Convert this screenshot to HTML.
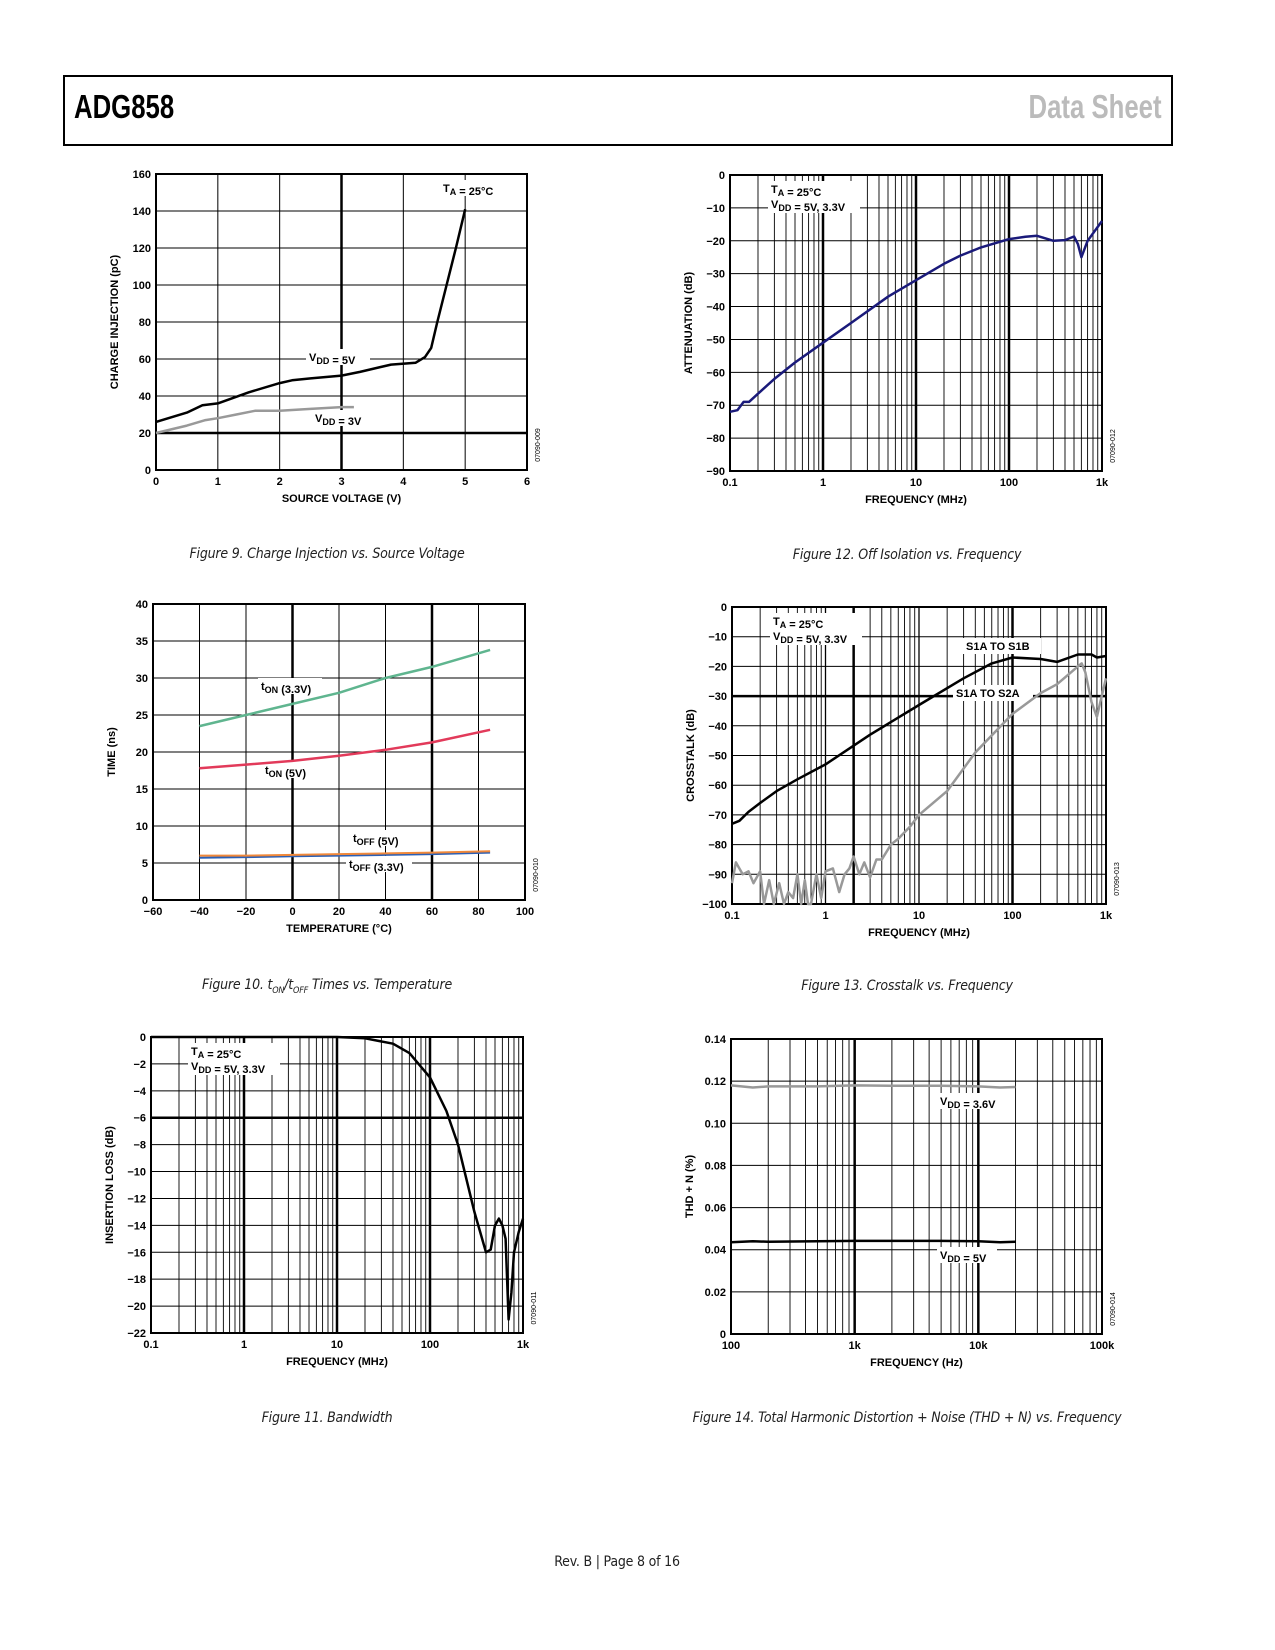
<!DOCTYPE html>
<html><head><meta charset="utf-8"><style>
body{margin:0;background:#fff;width:1275px;height:1650px;position:relative;overflow:hidden;font-family:"Liberation Sans",sans-serif}
.cap{position:absolute;font-style:italic;font-size:14px;color:#222;transform:translateX(-50%);white-space:nowrap;font-family:"DejaVu Sans Condensed","Liberation Sans",sans-serif;letter-spacing:-0.2px}
svg text{font-family:"Liberation Sans",sans-serif;font-weight:bold;font-size:11px}
</style></head><body>
<div style="position:absolute;left:63px;top:75px;width:1106px;height:67px;border:2px solid #000"></div>
<div style="position:absolute;left:74px;top:88px;font-size:33px;font-weight:bold;transform:scaleX(0.78);transform-origin:left;letter-spacing:0px">ADG858</div>
<div style="position:absolute;right:113px;top:88px;font-size:33px;font-weight:bold;color:#bbb;transform:scaleX(0.78);transform-origin:right">Data Sheet</div>
<div class="cap" style="left:327px;top:546px">Figure 9. Charge Injection vs. Source Voltage</div>
<div class="cap" style="left:907px;top:547px">Figure 12. Off Isolation vs. Frequency</div>
<div class="cap" style="left:327px;top:977px">Figure 10. t<sub style="font-size:9px">ON</sub>/t<sub style="font-size:9px">OFF</sub> Times vs. Temperature</div>
<div class="cap" style="left:907px;top:978px">Figure 13. Crosstalk vs. Frequency</div>
<div class="cap" style="left:327px;top:1410px">Figure 11. Bandwidth</div>
<div class="cap" style="left:907px;top:1410px">Figure 14. Total Harmonic Distortion + Noise (THD + N) vs. Frequency</div>
<div class="cap" style="left:617px;top:1554px;font-style:normal;font-size:14px">Rev. B | Page 8 of 16</div>
<svg id="s" width="1275" height="1650" style="position:absolute;left:0;top:0"></svg>
<script>
// Fig 9 data
const f9X5 = [0,0.5,0.75,1,1.5,2,2.2,2.5,3,3.3,3.8,4.2,4.35,4.45,4.55,4.7,4.85,5];
const f9Y5 = [26,31,35,36,42,47,48.5,49.5,51,53,57,58,61,66,80,100,120,141];
const f9X3 = [0,0.5,0.8,1,1.3,1.6,2,2.5,3,3.2];
const f9Y3 = [20,24,27,28,30,32,32,33,34,34];
// Fig 12 data
const f12F = [0.1,0.12,0.14,0.16,0.2,0.3,0.5,1,2,5,10,20,30,50,100,150,200,300,400,500,550,600,700,1000];
const f12Y = [-72,-71.5,-69,-69,-66.5,-62,-57,-51,-45,-37,-32,-27,-24.5,-22,-19.5,-18.8,-18.5,-20,-19.8,-18.7,-21,-25,-20,-14];
// Fig 10 data
const f10T = [-40,-20,0,20,40,60,85];
const f10On33 = [23.5,25,26.5,28,30,31.5,33.8];
const f10On5 = [17.8,18.3,18.8,19.5,20.3,21.3,23];
const f10Off5 = [6,6,6.1,6.2,6.3,6.4,6.6];
const f10Off33 = [5.7,5.8,5.9,6,6.1,6.2,6.4];
// Fig 13 data
const f13F1 = [0.1,0.12,0.15,0.2,0.3,0.5,1,3,10,30,60,100,200,300,500,700,800,1000];
const f13Y1 = [-73,-72,-69,-66,-62,-58,-53,-43,-33,-24,-19,-17,-17.5,-18.5,-16,-16,-17,-16.5];
const f13F2 = [0.1,0.11,0.13,0.15,0.17,0.2,0.22,0.25,0.28,0.32,0.36,0.4,0.45,0.5,0.55,0.6,0.65,0.7,0.8,0.9,1,1.2,1.4,1.6,1.8,2,2.3,2.6,3,3.5,4,5,6,8,10,20,40,100,200,300,500,550,600,700,800,900,1000];
const f13Y2 = [-93,-86,-90,-89,-93,-89,-100,-92,-100,-93,-100,-96,-98,-90,-100,-92,-100,-100,-90,-98,-89,-88,-96,-90,-88,-84,-90,-86,-91,-85,-85,-80,-78,-74,-70,-62,-49,-36,-29,-26,-20,-19,-22,-32,-37,-30,-24];
// Fig 11 data
const f11F = [0.1,10,20,40,60,100,150,200,300,400,450,500,550,600,650,700,750,800,900,1000];
const f11Y = [0,0,-0.1,-0.5,-1.2,-3,-5.5,-8,-13,-16,-15.8,-14,-13.5,-14,-15,-21,-19,-16,-14.5,-13.5];
// Fig 14 data
const f14F = [100,150,200,500,1000,2000,5000,10000,15000,20000];
const f14Y36 = [0.118,0.117,0.1175,0.1175,0.118,0.1178,0.1178,0.1175,0.117,0.1172];
const f14Y5 = [0.0435,0.044,0.0438,0.044,0.0442,0.0442,0.0442,0.044,0.0435,0.0438];

const S=document.getElementById('s');const NS='http://www.w3.org/2000/svg';
function mk(t,a,txt){const e=document.createElementNS(NS,t);for(const k in a)e.setAttribute(k,a[k]);if(txt!=null)e.textContent=txt;S.appendChild(e);return e;}
function chart(o){
  const lin=(v,a,b,p,q)=>p+(v-a)/(b-a)*(q-p);
  const sx=o.log?v=>lin(Math.log10(v),Math.log10(o.x0),Math.log10(o.x1),o.L,o.R):v=>lin(v,o.x0,o.x1,o.L,o.R);
  const sy=v=>lin(v,o.y0,o.y1,o.B,o.T);
  if(o.log){for(let d=Math.log10(o.x0);d<Math.log10(o.x1);d++){for(let m=1;m<10;m++){const v=Math.pow(10,d)*m;const x=sx(v);const g=mk('line',{x1:x,x2:x,y1:o.T,y2:o.B,stroke:'#000','stroke-width':(o.boldX||[]).some(b=>Math.abs(b-v)<1e-9)?2.5:(m==1?1.3:0.9)});}}}
  else{for(let v=o.x0;v<=o.x1+1e-9;v+=o.xs){const x=sx(v);const g=mk('line',{x1:x,x2:x,y1:o.T,y2:o.B,stroke:'#000','stroke-width':(o.boldX||[]).includes(v)?2.5:1});}}
  for(let i=0;i<o.yt.length;i++){const v=o.yt[i];const y=sy(v);const g=mk('line',{x1:o.L,x2:o.R,y1:y,y2:y,stroke:'#000','stroke-width':(o.boldY||[]).includes(v)?2.5:1});
    const t=mk('text',{x:o.L-5,y:y+4,'text-anchor':'end'},o.ytl[i]);}
  for(let i=0;i<o.xt.length;i++){const t=mk('text',{x:sx(o.xt[i]),y:o.B+15,'text-anchor':'middle'},o.xtl[i]);}
  const fr=mk('rect',{x:o.L,y:o.T,width:o.R-o.L,height:o.B-o.T,fill:'none',stroke:'#000','stroke-width':2});
  (o.labels||[]).forEach(l=>{const r=mk('rect',{x:l.x,y:l.y-12,width:l.w,height:l.h||16,fill:'#fff'});
    l.lines.forEach((ln,j)=>{const t=mk('text',{x:l.x+3,y:l.y+j*15});t.innerHTML=ln;});});
  o.series.forEach(s=>{const d=s.x.map((v,i)=>(i?'L':'M')+sx(v).toFixed(1)+','+sy(s.y[i]).toFixed(1)).join('');const p=mk('path',{d:d,fill:'none',stroke:s.c,'stroke-width':s.w||2.5,'stroke-linejoin':'round'});});
  const xt=mk('text',{x:(o.L+o.R)/2,y:o.B+32,'text-anchor':'middle'},o.xtitle);
  const yt=mk('text',{x:0,y:0,'text-anchor':'middle',transform:`translate(${o.L-38},${(o.T+o.B)/2}) rotate(-90)`},o.ytitle);
  const id=mk('text',{x:0,y:0,'text-anchor':'middle',transform:`translate(${o.R+13},${o.B-25}) rotate(-90)`,style:'font-size:7px;font-weight:normal'},o.id);
}
const sub=s=>`<tspan dy="3" font-size="9">${s}</tspan><tspan dy="-3"></tspan>`;
const r=(a,b,s)=>{const o=[];for(let v=a;v<=b+1e-9;v+=s)o.push(+v.toFixed(3));return o;};
const minus=v=>String(v).replace('-','\u2212');
let yt;
yt=r(0,160,20);
chart({L:156,R:527,T:174,B:470,x0:0,x1:6,xs:1,boldX:[3],boldY:[20],yt:yt,ytl:yt.map(String),y0:0,y1:160,xt:r(0,6,1),xtl:r(0,6,1).map(String),xtitle:'SOURCE VOLTAGE (V)',ytitle:'CHARGE INJECTION (pC)',id:'07090-009',
 labels:[{x:440,y:192,w:62,lines:['T'+sub('A')+' = 25°C'],name:'temp-label'},{x:306,y:361,w:64,lines:['V'+sub('DD')+' = 5V'],name:'vdd-5v-label'},{x:312,y:422,w:64,lines:['V'+sub('DD')+' = 3V'],name:'vdd-3v-label'}],
 series:[{x:f9X3,y:f9Y3,c:'#999',name:'vdd-3v-line'},{x:f9X5,y:f9Y5,c:'#000',name:'vdd-5v-line'}]});
yt=r(-90,0,10);
chart({L:730,R:1102,T:175,B:471,log:true,x0:0.1,x1:1000,boldX:[1,10,100],yt:yt,ytl:yt.map(minus),y0:-90,y1:0,xt:[0.1,1,10,100,1000],xtl:['0.1','1','10','100','1k'],xtitle:'FREQUENCY (MHz)',ytitle:'ATTENUATION (dB)',id:'07090-012',
 labels:[{x:768,y:193,w:92,h:32,lines:['T'+sub('A')+' = 25°C','V'+sub('DD')+' = 5V, 3.3V'],name:'condition-label'}],
 series:[{x:f12F,y:f12Y,c:'#1a1a7a',name:'off-isolation-line'}]});
yt=r(0,40,5);
chart({L:153,R:525,T:604,B:900,x0:-60,x1:100,xs:20,boldX:[0,60],yt:yt,ytl:yt.map(String),y0:0,y1:40,xt:r(-60,100,20),xtl:r(-60,100,20).map(minus),xtitle:'TEMPERATURE (°C)',ytitle:'TIME (ns)',id:'07090-010',
 labels:[{x:258,y:690,w:64,lines:['t'+sub('ON')+' (3.3V)'],name:'ton-3v3-label'},{x:262,y:774,w:54,lines:['t'+sub('ON')+' (5V)'],name:'ton-5v-label'},{x:350,y:842,w:58,lines:['t'+sub('OFF')+' (5V)'],name:'toff-5v-label'},{x:346,y:868,w:66,lines:['t'+sub('OFF')+' (3.3V)'],name:'toff-3v3-label'}],
 series:[{x:f10T,y:f10On33,c:'#5fb58f',name:'ton-3v3-line'},{x:f10T,y:f10On5,c:'#e23a5a',name:'ton-5v-line'},{x:f10T,y:f10Off33,c:'#2b5fb5',name:'toff-3v3-line',w:2},{x:f10T,y:f10Off5,c:'#f0883a',name:'toff-5v-line',w:2}]});
yt=r(-100,0,10);
chart({L:732,R:1106,T:607,B:904,log:true,x0:0.1,x1:1000,boldX:[2,100],boldY:[-30],yt:yt,ytl:yt.map(minus),y0:-100,y1:0,xt:[0.1,1,10,100,1000],xtl:['0.1','1','10','100','1k'],xtitle:'FREQUENCY (MHz)',ytitle:'CROSSTALK (dB)',id:'07090-013',
 labels:[{x:770,y:625,w:92,h:32,lines:['T'+sub('A')+' = 25°C','V'+sub('DD')+' = 5V, 3.3V'],name:'condition-label'},{x:963,y:650,w:78,lines:['S1A TO S1B'],name:'s1a-s1b-label'},{x:953,y:697,w:80,lines:['S1A TO S2A'],name:'s1a-s2a-label'}],
 series:[{x:f13F2,y:f13Y2,c:'#999',name:'s1a-s2a-line'},{x:f13F1,y:f13Y1,c:'#000',name:'s1a-s1b-line'}]});
yt=r(-22,0,2);
chart({L:151,R:523,T:1037,B:1333,log:true,x0:0.1,x1:1000,boldX:[1,10,100],boldY:[-6],yt:yt,ytl:yt.map(minus),y0:-22,y1:0,xt:[0.1,1,10,100,1000],xtl:['0.1','1','10','100','1k'],xtitle:'FREQUENCY (MHz)',ytitle:'INSERTION LOSS (dB)',id:'07090-011',
 labels:[{x:188,y:1055,w:92,h:32,lines:['T'+sub('A')+' = 25°C','V'+sub('DD')+' = 5V, 3.3V'],name:'condition-label'}],
 series:[{x:f11F,y:f11Y,c:'#000',name:'bandwidth-line'}]});
yt=r(0,0.14,0.02);
chart({L:731,R:1102,T:1039,B:1334,log:true,x0:100,x1:100000,boldX:[1000,10000],yt:yt,ytl:yt.map(v=>v?v.toFixed(2):'0'),y0:0,y1:0.14,xt:[100,1000,10000,100000],xtl:['100','1k','10k','100k'],xtitle:'FREQUENCY (Hz)',ytitle:'THD + N (%)',id:'07090-014',
 labels:[{x:937,y:1105,w:66,lines:['V'+sub('DD')+' = 3.6V'],name:'vdd-3v6-label'},{x:937,y:1259,w:60,lines:['V'+sub('DD')+' = 5V'],name:'vdd-5v-label'}],
 series:[{x:f14F,y:f14Y36,c:'#999',name:'vdd-3v6-line'},{x:f14F,y:f14Y5,c:'#000',name:'vdd-5v-line'}]});
</script>
</body></html>
